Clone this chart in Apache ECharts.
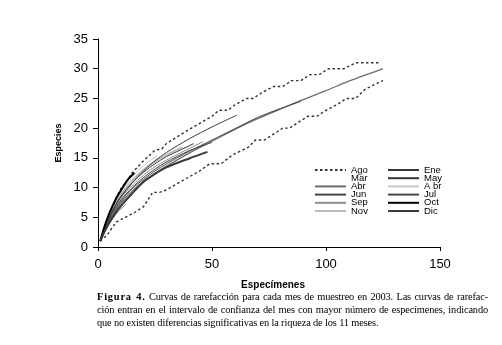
<!DOCTYPE html>
<html>
<head>
<meta charset="utf-8">
<script src="https://cdn.jsdelivr.net/npm/echarts@6/dist/echarts.min.js"></script>
<style>
  html, body { margin: 0; padding: 0; background: #fff; }
  #chart { position: absolute; left: 0; top: 0; width: 502px; height: 345px; }
  #caption {
    position: absolute; left: 97px; top: 290px; width: 391px;
    font-family: "Liberation Serif", "Times New Roman", serif;
    font-size: 10.4px; line-height: 13px; color: #000; letter-spacing: -0.15px;
  }
  #caption div { text-align: justify; text-align-last: justify; white-space: nowrap; }
  #caption div.last { text-align-last: left; }
  #caption b { letter-spacing: 0.8px; }
</style>
</head>
<body>
<div id="chart"></div>
<div id="caption">
  <div><b>Figura 4.</b> Curvas de rarefacción para cada mes de muestreo en 2003. Las curvas de rarefac-</div>
  <div>ción entran en el intervalo de confianza del mes con mayor número de especímenes, indicando</div>
  <div class="last">que no existen diferencias significativas en la riqueza de los 11 meses.</div>
</div>
<script>
// límites del intervalo de confianza (Ago)
const ciUpX = [1, 3, 5, 8, 10, 13, 15, 20, 25, 28, 30, 35, 40, 45, 50, 53, 57, 60, 65, 68, 72, 77, 81, 85, 89, 93, 97, 101, 108, 113, 124]
const ciUpY = [1, 3.5, 5.5, 8.3, 9.8, 11.3, 12.5, 14.5, 16.3, 16.5, 17.4, 18.6, 19.8, 20.9, 22, 23, 23, 23.9, 25, 25, 26, 27, 27, 28, 28, 29, 29, 30, 30, 31, 31]
const ciLoX = [1, 4, 8, 12, 16, 20, 24, 27, 30, 35, 40, 45, 49, 54, 59, 66, 69, 73, 77, 81, 84, 88, 92, 96, 100, 105, 109, 113, 117, 121, 125]
const ciLoY = [1, 2, 4.2, 5, 5.8, 6.8, 9.2, 9.2, 9.6, 10.7, 11.8, 12.9, 14, 14, 15.5, 16.8, 18, 18, 19, 20, 20, 21, 22, 22, 23, 24, 25, 25, 26.5, 27.3, 28]

// curvas de rarefacción por mes
const abrX = [1, 3, 5, 8, 10, 15, 20, 25, 30, 40, 50, 60, 70, 80, 90, 100, 110, 120, 125]
const abrY = [1, 2.8, 4.4, 6.3, 7.4, 9.4, 11.0, 12.4, 13.6, 15.8, 17.8, 19.8, 21.6, 23.2, 24.8, 26.3, 27.9, 29.3, 30.0]
const julX = [1, 3, 5, 8, 10, 15, 20, 25, 30, 40, 50, 60, 70, 80, 89]
const julY = [1, 3, 4.6, 6.6, 7.7, 9.8, 11.4, 12.8, 14.0, 16.1, 18.0, 19.9, 21.8, 23.3, 24.5]
const eneX = [1, 3, 5, 8, 10, 15, 20, 25, 30, 40, 50, 61]
const eneY = [1, 3.2, 5.0, 7.2, 8.4, 10.8, 12.8, 14.5, 15.9, 18.2, 20.2, 22.2]
const junX = [1, 3, 5, 8, 10, 15, 20, 25, 30, 40, 50]
const junY = [1, 3.1, 4.8, 6.8, 7.9, 10.0, 11.7, 13.1, 14.3, 16.2, 17.6]
const mayX = [1, 3, 5, 8, 10, 15, 20, 25, 30, 36, 42]
const mayY = [1, 3.3, 5.1, 7.3, 8.5, 10.8, 12.6, 14.0, 15.2, 16.3, 17.4]
const sepX = [1, 3, 5, 8, 10, 15, 20, 25, 30, 38, 46]
const sepY = [1, 3.2, 5.0, 7.1, 8.2, 10.4, 12.1, 13.5, 14.6, 16.2, 17.7]
const novX = [1, 3, 5, 8, 10, 15, 20, 25, 30, 37]
const novY = [1, 3.4, 5.3, 7.6, 8.8, 11.2, 13.0, 14.4, 15.5, 16.8]
const abr2X = [1, 3, 5, 8, 10, 15, 20, 26]
const abr2Y = [1, 3.5, 5.5, 7.9, 9.2, 11.8, 13.7, 15.4]
const octX = [1, 3, 5, 8, 10, 13, 16]
const octY = [1, 3.6, 5.7, 8.2, 9.5, 11.3, 12.5]
const marX = [1, 3, 5, 8, 10, 12]
const marY = [1, 2.6, 4.0, 5.6, 6.4, 7.1]
const dicX = [1, 3, 5, 8, 10, 15, 20, 25, 30, 40, 48]
const dicY = [1, 2.7, 4.1, 5.9, 6.9, 9.0, 11.0, 12.3, 13.4, 14.9, 16.0]

const xTicks = [0, 50, 100, 150]
const yTicks = [0, 5, 10, 15, 20, 25, 30, 35]

const legendLeft = ['Ago', 'Mar', 'Abr', 'Jun', 'Sep', 'Nov']
const legendRight = ['Ene', 'May', 'A br', 'Jul', 'Oct', 'Dic']

const pairs = (xs, ys) => xs.map((x, i) => [x, ys[i]])

const chart = echarts.init(document.getElementById('chart'))

const ciStyle = { color: '#333', width: 1.4, type: [2.5, 2.5] }
function curve (name, xs, ys, color, width) {
  return {
    name: name,
    type: 'line',
    data: pairs(xs, ys),
    smooth: 0.3,
    symbol: 'none',
    showSymbol: false,
    lineStyle: { color: color, width: width },
    itemStyle: { color: color }
  }
}

const axisFont = { fontFamily: 'Liberation Sans, Arial, sans-serif', fontSize: 13, color: '#000' }
const legendBase = {
  orient: 'vertical',
  selectedMode: false,
  itemWidth: 31,
  itemHeight: 8,
  itemGap: -1.8,
  padding: 0,
  itemStyle: { opacity: 0 },
  textStyle: { fontFamily: 'Liberation Sans, Arial, sans-serif', fontSize: 9.5, lineHeight: 8, color: '#000' }
}

const option = {
  animation: false,
  backgroundColor: '#fff',
  grid: { left: 98, right: 62, top: 39, bottom: 98 },
  legend: [
    Object.assign({}, legendBase, {
      left: 314, top: 165,
      data: legendLeft.map(n => n === 'Mar' ? { name: n, lineStyle: { opacity: 0 } } : n)
    }),
    Object.assign({}, legendBase, { left: 387, top: 165, data: legendRight })
  ],
  xAxis: {
    type: 'value',
    min: 0, max: 150, interval: 50,
    name: 'Especímenes',
    nameLocation: 'middle',
    nameGap: 33,
    nameTextStyle: { fontFamily: 'Liberation Sans, Arial, sans-serif', fontSize: 10, fontWeight: 'bold', color: '#000', padding: [0, 0, 0, 8] },
    axisLine: { lineStyle: { color: '#000', width: 1 } },
    axisTick: { show: true, length: 4, lineStyle: { color: '#000' } },
    axisLabel: Object.assign({ margin: 11 }, axisFont),
    splitLine: { show: false }
  },
  yAxis: {
    type: 'value',
    min: 0, max: 35, interval: 5,
    name: 'Especies',
    nameLocation: 'middle',
    nameGap: 29,
    nameRotate: 90,
    nameTextStyle: { fontFamily: 'Liberation Sans, Arial, sans-serif', fontSize: 9, fontWeight: 'bold', color: '#000' },
    axisLine: { show: true, lineStyle: { color: '#000', width: 1 } },
    axisTick: { show: true, length: 5, lineStyle: { color: '#000' } },
    axisLabel: Object.assign({ margin: 10 }, axisFont),
    splitLine: { show: false }
  },
  series: [
    { name: 'Ago', type: 'line', data: pairs(ciUpX, ciUpY), symbol: 'none', showSymbol: false, lineStyle: ciStyle, itemStyle: { color: '#333' } },
    { name: 'Ago', type: 'line', data: pairs(ciLoX, ciLoY), symbol: 'none', showSymbol: false, lineStyle: ciStyle, itemStyle: { color: '#333' } },
    curve('Mar', marX, marY, '#666', 1),
    curve('Abr', abrX, abrY, '#6e6e6e', 1.3),
    curve('Jun', junX, junY, '#444', 1),
    curve('Sep', sepX, sepY, '#8c8c8c', 1),
    curve('Nov', novX, novY, '#bdbdbd', 2),
    curve('Ene', eneX, eneY, '#383838', 1),
    curve('May', mayX, mayY, '#333', 1),
    curve('A br', abr2X, abr2Y, '#c8c8c8', 1),
    curve('Jul', julX, julY, '#4a4a4a', 1),
    curve('Oct', octX, octY, '#000', 2),
    curve('Dic', dicX, dicY, '#3a3a3a', 2)
  ]
}

chart.setOption(option)
</script>
</body>
</html>
